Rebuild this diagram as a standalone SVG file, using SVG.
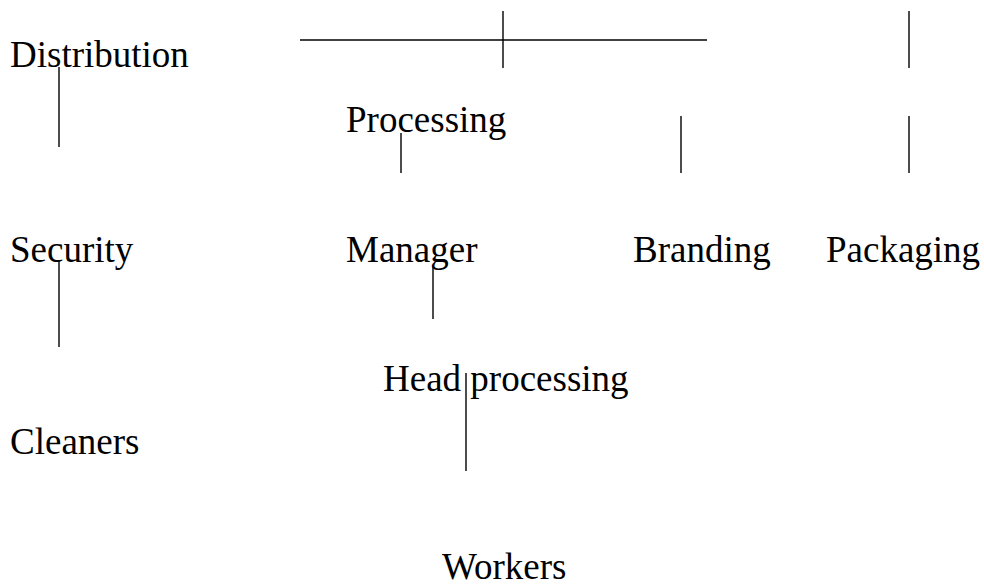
<svg xmlns="http://www.w3.org/2000/svg" width="984" height="586" viewBox="0 0 984 586">
<style>
text{font-family:"Liberation Serif","Times New Roman",serif;font-size:37px;fill:#000}
.c line{stroke:#000;stroke-width:1.4}
</style>
<rect width="984" height="586" fill="#fff"/>
<g id="distribution"><text x="10" y="67">Distribution</text></g>
<g id="processing"><text x="346" y="132">Processing</text></g>
<g id="security"><text x="10" y="262">Security</text></g>
<g id="manager"><text x="346" y="262">Manager</text></g>
<g id="branding"><text x="633" y="262">Branding</text></g>
<g id="packaging"><text x="826" y="262">Packaging</text></g>
<g id="head-processing"><text x="383" y="391">Head processing</text></g>
<g id="cleaners"><text x="10" y="454">Cleaners</text></g>
<g id="workers"><text x="442" y="579">Workers</text></g>
<g id="connectors" class="c">
<line x1="300" y1="40" x2="707" y2="40"/>
<line x1="503" y1="11" x2="503" y2="68"/>
<line x1="909" y1="11" x2="909" y2="68"/>
<line x1="59" y1="67" x2="59" y2="147"/>
<line x1="401" y1="133" x2="401" y2="173"/>
<line x1="681" y1="116" x2="681" y2="173"/>
<line x1="909" y1="116" x2="909" y2="173"/>
<line x1="59" y1="262" x2="59" y2="347"/>
<line x1="433" y1="267" x2="433" y2="319"/>
<line x1="466" y1="373" x2="466" y2="471"/>
</g>
</svg>
